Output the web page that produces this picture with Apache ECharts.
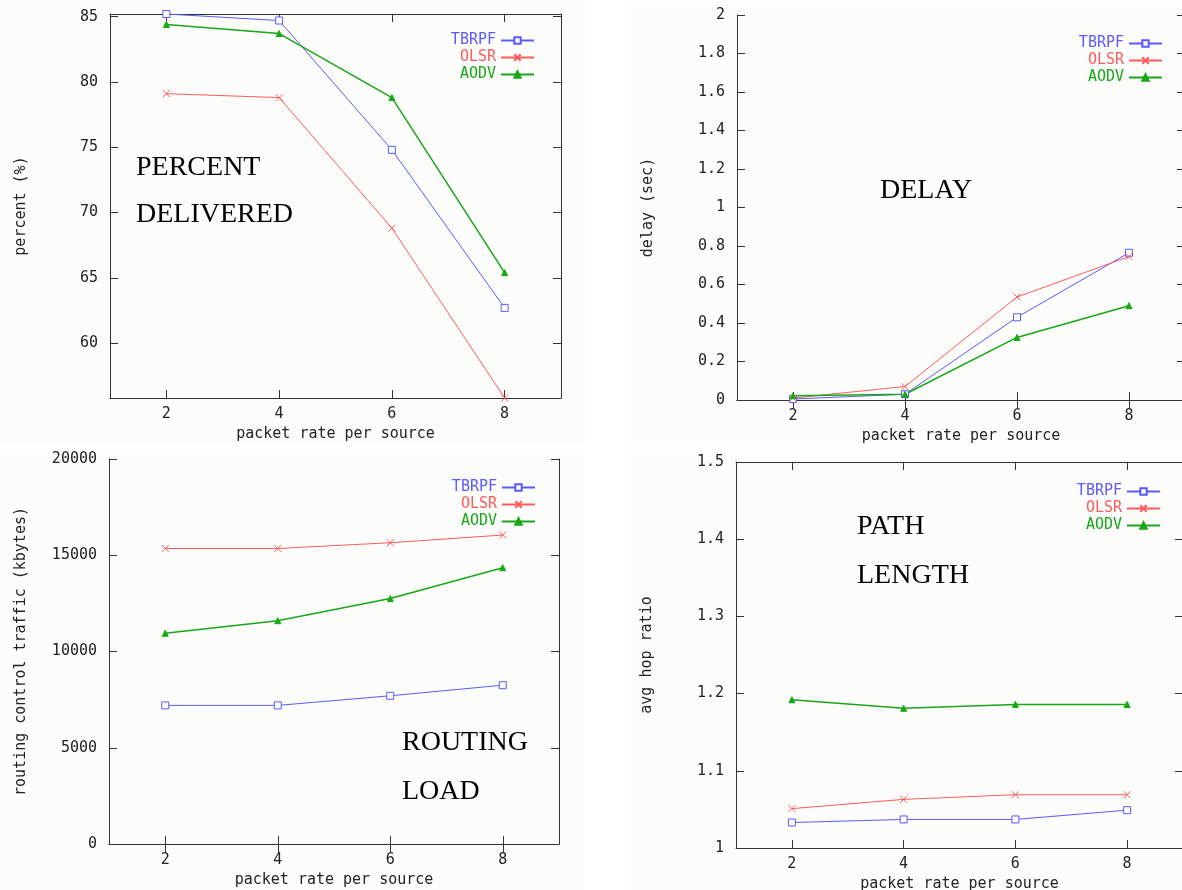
<!DOCTYPE html>
<html>
<head>
<meta charset="utf-8">
<script src="https://cdn.jsdelivr.net/npm/echarts@6/dist/echarts.min.js"></script>
<style>
  html, body { margin: 0; padding: 0; background: #fff; }
  body { width: 1182px; height: 890px; position: relative; overflow: hidden; }
  .panel { position: absolute; background: #fcfdfb; }
</style>
</head>
<body>
<div class="panel" id="p1" style="left:0;top:0;width:586px;height:442px"></div>
<div class="panel" id="p2" style="left:630px;top:5px;width:552px;height:439px"></div>
<div class="panel" id="p3" style="left:0;top:451px;width:584px;height:439px"></div>
<div class="panel" id="p4" style="left:629px;top:453px;width:553px;height:437px"></div>
<script>
// x axis: packet rate per source
var rates = ['2', '4', '6', '8'];
var names = ['TBRPF', 'OLSR', 'AODV'];

// percent delivered (%)
var deliveredTbrpf = [85.2, 84.7, 74.8, 62.7];
var deliveredOlsr  = [79.1, 78.8, 68.8, 55.8];
var deliveredAodv  = [84.4, 83.7, 78.8, 65.4];

// delay (sec)
var delayTbrpf = [0.005, 0.03, 0.43, 0.765];
var delayOlsr  = [0.01, 0.07, 0.535, 0.745];
var delayAodv  = [0.022, 0.03, 0.325, 0.49];

// routing control traffic (kbytes)
var loadTbrpf = [7200, 7200, 7700, 8250];
var loadOlsr  = [15350, 15350, 15650, 16050];
var loadAodv  = [10950, 11600, 12750, 14350];

// avg hop ratio
var hopTbrpf = [1.033, 1.037, 1.037, 1.049];
var hopOlsr  = [1.051, 1.063, 1.069, 1.069];
var hopAodv  = [1.192, 1.181, 1.186, 1.186];

var mono = 'DejaVu Sans Mono';
var serif = 'Liberation Serif';
var bg = '#fcfdfb';
var axisColor = '#333';
var colors = ['#5a5aff', '#ff5a5a', '#16a816'];
var symbols = ['rect', 'path://M0 0L10 10M10 0L0 10', 'triangle'];

function makeSeries(i, values) {
    var s = {
        name: names[i],
        type: 'line',
        data: values,
        clip: false,
        symbol: symbols[i],
        symbolSize: i == 2 ? 6 : 7,
        lineStyle: { color: colors[i], width: i == 2 ? 1.5 : 1 },
        itemStyle: { color: colors[i], borderColor: colors[i], borderWidth: 1 }
    };
    if (i == 0) s.itemStyle.color = bg;
    if (i == 1) s.itemStyle.color = 'rgba(0,0,0,0)';
    return s;
}

function panelOption(p) {
    var tickStyle = { show: true, inside: true, length: 8, lineStyle: { color: axisColor, width: 1 } };
    var lineStyle = { show: true, lineStyle: { color: axisColor, width: 1 } };

    var yLeft = {
        type: 'value', position: 'left', min: p.yMin, max: p.yMax,
        name: p.yName, nameLocation: 'middle', nameGap: p.yNameGap,
        nameTextStyle: { fontFamily: mono, fontSize: 15, color: '#222' },
        axisLine: lineStyle, axisTick: tickStyle, splitLine: { show: false },
        axisLabel: {
            fontFamily: mono, fontSize: 15, color: '#222', margin: 12,
            showMinLabel: p.showEnds, showMaxLabel: p.showEnds,
            formatter: function (v) { return String(+v.toFixed(4)); }
        }
    };
    if (p.yInterval) yLeft.interval = p.yInterval; else yLeft.splitNumber = p.ySplit;
    var yRight = echarts.util.clone(yLeft);
    yRight.position = 'right';
    yRight.name = '';
    yRight.axisLabel = { show: false };

    var xBottom = {
        type: 'category', position: 'bottom', data: rates, boundaryGap: true,
        name: 'packet rate per source', nameLocation: 'middle', nameGap: 26,
        nameTextStyle: { fontFamily: mono, fontSize: 15, color: '#222' },
        axisLine: lineStyle,
        axisTick: { show: true, inside: true, length: 8, alignWithLabel: true, lineStyle: { color: axisColor } },
        axisLabel: { fontFamily: mono, fontSize: 15, color: '#222', margin: 9 },
        splitLine: { show: false }
    };
    var xTop = {
        type: 'category', position: 'top', data: rates, boundaryGap: true,
        axisLine: lineStyle,
        axisTick: { show: true, inside: true, length: 8, alignWithLabel: true, lineStyle: { color: axisColor } },
        axisLabel: { show: false }, splitLine: { show: false }
    };

    var series = p.values.map(function (vals, i) { return makeSeries(i, vals); });

    var notes = p.notes.map(function (n) {
        return {
            type: 'text', left: n[1], top: n[2] + 2,
            style: { text: n[0], font: '28px "' + serif + '"', fill: '#000' }
        };
    });

    return {
        animation: false,
        backgroundColor: bg,
        grid: { left: p.grid[0], top: p.grid[1], right: p.grid[2], bottom: p.grid[3], containLabel: false, outerBoundsMode: 'none' },
        legend: {
            orient: 'vertical', right: p.legend[0], top: p.legend[1], align: 'right',
            itemWidth: 33, itemHeight: 8, itemGap: 2,
            textStyle: { fontFamily: mono, fontSize: 15, lineHeight: 14 },
            data: names.map(function (n, i) { return { name: n, textStyle: { color: colors[i] } }; })
        },
        xAxis: [xBottom, xTop],
        yAxis: [yLeft, yRight],
        series: series,
        graphic: notes
    };
}

// 1. percent delivered
var chart1 = echarts.init(document.getElementById('p1'));
chart1.setOption(panelOption({
    grid: [110, 14, 25, 44], legend: [46, 28],
    yMin: 55.8, yMax: 85.2, ySplit: 6, showEnds: false,
    yName: 'percent (%)', yNameGap: 81,
    values: [deliveredTbrpf, deliveredOlsr, deliveredAodv],
    notes: [['PERCENT', 136, 152], ['DELIVERED', 136, 199]]
}));

// 2. delay
var chart2 = echarts.init(document.getElementById('p2'));
chart2.setOption(panelOption({
    grid: [107, 10, -3, 44], legend: [14, 26],
    yMin: 0, yMax: 2, yInterval: 0.2, showEnds: true,
    yName: 'delay (sec)', yNameGap: 81,
    values: [delayTbrpf, delayOlsr, delayAodv],
    notes: [['DELAY', 250, 170]]
}));

// 3. routing load
var chart3 = echarts.init(document.getElementById('p3'));
chart3.setOption(panelOption({
    grid: [109, 8, 25, 46], legend: [43, 24],
    yMin: 0, yMax: 20000, yInterval: 5000, showEnds: true,
    yName: 'routing control traffic (kbytes)', yNameGap: 80,
    values: [loadTbrpf, loadOlsr, loadAodv],
    notes: [['ROUTING', 402, 276], ['LOAD', 402, 325]]
}));

// 4. path length
var chart4 = echarts.init(document.getElementById('p4'));
chart4.setOption(panelOption({
    grid: [107, 9, -1, 42], legend: [16, 26],
    yMin: 1, yMax: 1.5, yInterval: 0.1, showEnds: true,
    yName: 'avg hop ratio', yNameGap: 81,
    values: [hopTbrpf, hopOlsr, hopAodv],
    notes: [['PATH', 228, 58], ['LENGTH', 228, 107]]
}));
</script>
</body>
</html>
